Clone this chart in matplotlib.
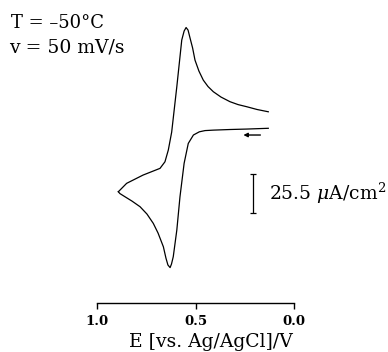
import matplotlib
matplotlib.use("Agg")
import matplotlib.pyplot as plt
import numpy as np

# Reverse branch: from vertex to end of scan
E_upper = [0.891, 0.849, 0.766, 0.680, 0.655, 0.638, 0.621, 0.595, 0.570, 0.558,
           0.548, 0.538, 0.528, 0.515, 0.503, 0.483, 0.461, 0.437, 0.410, 0.371,
           0.326, 0.285, 0.241, 0.189, 0.132]
i_upper = [-41.0, -35.5, -30.1, -25.7, -21.4, -13.7, -2.0, 27.7, 58.2, 64.1,
           66.4, 64.7, 59.5, 53.0, 45.1, 37.9, 32.0, 27.8, 24.4, 20.9,
           17.9, 16.0, 14.6, 12.8, 11.3]

# Forward branch: from start of scan to vertex
E_lower = [0.132, 0.241, 0.326, 0.410, 0.452, 0.481, 0.511, 0.537, 0.558, 0.579,
           0.595, 0.613, 0.622, 0.629, 0.640, 0.650, 0.663, 0.690, 0.714, 0.746,
           0.781, 0.822, 0.857, 0.883, 0.891]
i_lower = [0.5, 0.0, -0.3, -0.7, -1.0, -1.8, -3.9, -9.4, -22.4, -44.3,
           -66.1, -83.5, -88.3, -90.6, -88.9, -84.4, -77.0, -68.0, -61.7, -55.6,
           -50.8, -47.1, -44.3, -42.2, -41.0]

x_ticks = [1.0, 0.5, 0.0]
x_ticklabels = ["1.0", "0.5", "0.0"]
scale_value = 25.5  # µA/cm²

plt.rcParams['mathtext.fontset'] = 'dejavuserif'
serif = ['DejaVu Serif']
FS = 13.5

fig = plt.figure(figsize=(3.88, 3.52), dpi=100)
ax = fig.add_axes([0, 0, 1, 1])
ax.set_xlim(1.490, -0.474)
ax.set_ylim(-145.8, 84.4)
ax.patch.set_alpha(0)

ax.plot(E_lower, i_lower, color='black', lw=0.9)
ax.plot(E_upper, i_upper, color='black', lw=0.9)

# scan direction arrow
ax.annotate('', xy=(0.258, -3.9), xytext=(0.172, -3.9),
            arrowprops=dict(arrowstyle='-|>', color='black', lw=1.0,
                            mutation_scale=6, shrinkA=0, shrinkB=0))

# scale bar
bar_x = 0.211
bar_top = -29.4
ax.errorbar([bar_x], [bar_top - scale_value / 2], yerr=[[scale_value / 2], [scale_value / 2]],
            fmt='none', ecolor='black', elinewidth=0.9, capsize=2.5, capthick=0.9)
fig.text(269 / 388, 1 - 200 / 352, r'25.5 $\mu$A/cm$^2$', fontsize=FS,
         family=serif, va='baseline', ha='left')

# axis
for s in ['top', 'left', 'right']:
    ax.spines[s].set_visible(False)
ax.spines['bottom'].set_position(('data', -113.6))
ax.spines['bottom'].set_bounds(1.0, 0.0)
ax.spines['bottom'].set_linewidth(1.0)
ax.set_yticks([])
ax.set_xticks(x_ticks)
ax.set_xticklabels(x_ticklabels, fontsize=9.5, fontweight='bold', family=serif)
ax.tick_params(axis='x', direction='out', length=4.5, width=1.0, pad=4)

fig.text(211 / 388, 1 - 347 / 352, 'E [vs. Ag/AgCl]/V', fontsize=FS, family=serif,
         ha='center', va='baseline')

fig.text(11 / 388, 1 - 28 / 352, 'T = \u201350\u00b0C', fontsize=13, family=serif,
         ha='left', va='baseline')
fig.text(9 / 388, 1 - 52 / 352, 'v = 50 mV/s', fontsize=FS, family=serif,
         ha='left', va='baseline')

fig.savefig('out.png', dpi=100, facecolor='white')
